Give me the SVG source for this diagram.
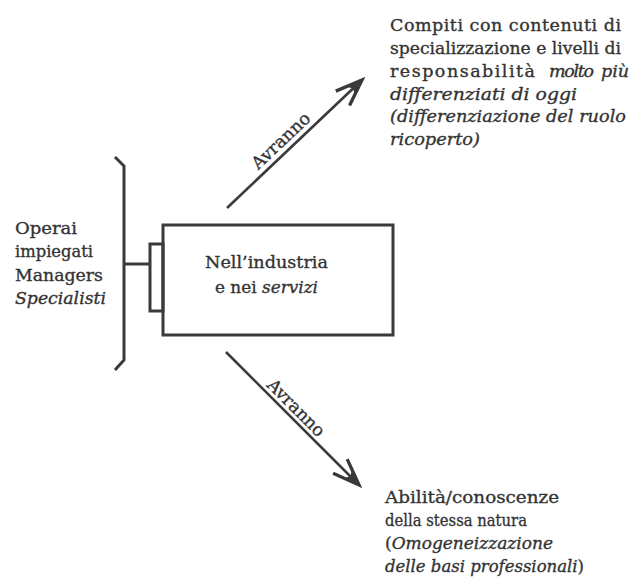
<svg xmlns="http://www.w3.org/2000/svg" width="630" height="585" viewBox="0 0 630 585">
<style>
text{font-family:"DejaVu Serif","Liberation Serif",serif;font-size:17.5px;fill:#333;stroke:#333;stroke-width:0.35}
.i{font-style:italic}
.ln{fill:none;stroke:#3a3a3a;stroke-width:3}
.ar{fill:none;stroke:#3a3a3a;stroke-width:2.6}
</style>
<defs>
<marker id="ah" markerUnits="userSpaceOnUse" markerWidth="40" markerHeight="40" viewBox="-30 -15 36 30" refX="0" refY="0" orient="auto" overflow="visible">
<path d="M-24,-9 L0,0 L-24,9" fill="none" stroke="#3a3a3a" stroke-width="3"/>
<path d="M0,0 L-14,-5 L-11,0 L-14,5 Z" fill="#3a3a3a"/>
</marker>
</defs>
<rect width="630" height="585" fill="#fff"/>
<g id="groups">
<path class="ln" d="M115,157 L124,166 L124,360 L115,370"/>
<text x="15" y="234" textLength="62" lengthAdjust="spacingAndGlyphs">Operai</text>
<text x="15" y="257" textLength="78" lengthAdjust="spacingAndGlyphs">impiegati</text>
<text x="15" y="281" textLength="88" lengthAdjust="spacingAndGlyphs">Managers</text>
<text x="15" y="304" class="i" textLength="91" lengthAdjust="spacingAndGlyphs">Specialisti</text>
</g>
<g id="box">
<rect class="ln" x="163" y="225" width="230" height="110"/>
<text x="205" y="268" textLength="123" lengthAdjust="spacingAndGlyphs">Nell’industria</text>
<text x="215" y="293" textLength="103" lengthAdjust="spacingAndGlyphs">e nei <tspan class="i">servizi</tspan></text>
</g>
<g id="connectors">
<path class="ln" d="M124,264 L150,264"/>
<rect class="ln" x="150" y="244" width="13" height="67"/>
<line class="ar" x1="227" y1="208" x2="362" y2="80" marker-end="url(#ah)"/>
<line class="ar" x1="226" y1="352" x2="359" y2="485" marker-end="url(#ah)"/>
<text x="285" y="145" text-anchor="middle" transform="rotate(-43.5 285 145)">Avranno</text>
<text x="292" y="412" text-anchor="middle" transform="rotate(45 292 412)">Avranno</text>
</g>
<g id="upper">
<text x="390" y="31" textLength="231" lengthAdjust="spacing">Compiti con contenuti di</text>
<text x="390" y="54" textLength="231" lengthAdjust="spacingAndGlyphs">specializzazione e livelli di</text>
<text x="390" y="77" textLength="145" lengthAdjust="spacing">responsabilità</text>
<text x="549" y="77" class="i" textLength="45" lengthAdjust="spacing">molto</text>
<text x="601" y="77" class="i">più</text>
<text x="390" y="100" class="i" textLength="187" lengthAdjust="spacingAndGlyphs">differenziati di oggi</text>
<text x="390" y="122" class="i" textLength="236" lengthAdjust="spacingAndGlyphs">(differenziazione del ruolo</text>
<text x="390" y="145" class="i" textLength="90" lengthAdjust="spacingAndGlyphs">ricoperto)</text>
</g>
<g id="lower">
<text x="385" y="503" textLength="174" lengthAdjust="spacingAndGlyphs">Abilità/conoscenze</text>
<text x="385" y="526" textLength="142" lengthAdjust="spacingAndGlyphs">della stessa natura</text>
<text x="385" y="549" textLength="168" lengthAdjust="spacingAndGlyphs">(<tspan class="i">Omogeneizzazione</tspan></text>
<text x="385" y="572" textLength="199" lengthAdjust="spacingAndGlyphs"><tspan class="i">delle basi professionali</tspan>)</text>
</g>
</svg>
